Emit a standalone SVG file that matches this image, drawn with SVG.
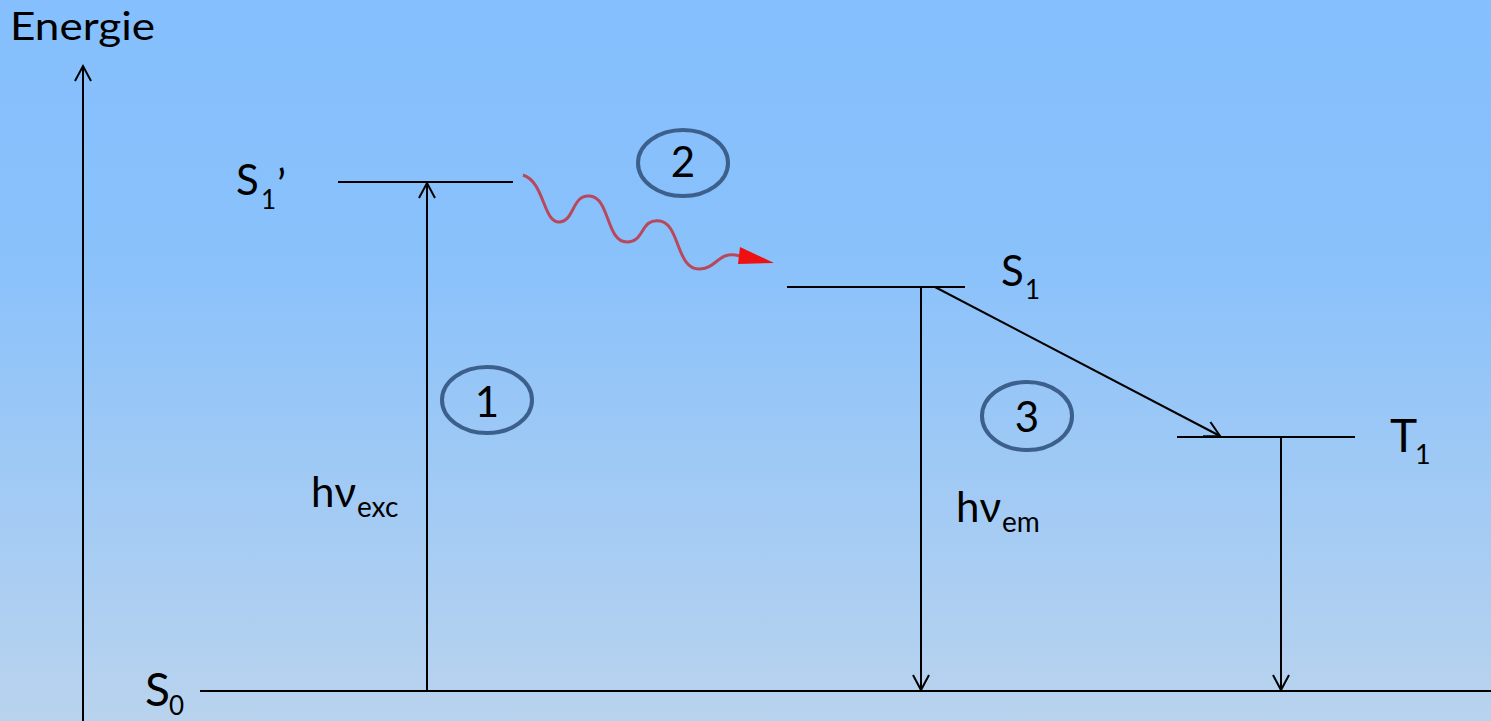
<svg xmlns="http://www.w3.org/2000/svg" width="1491" height="721" viewBox="0 0 1491 721">
  <defs>
    <linearGradient id="bg" x1="0" y1="0" x2="0" y2="1">
      <stop offset="0" stop-color="#85bffd"/>
      <stop offset="0.35" stop-color="#89c1fb"/>
      <stop offset="1" stop-color="#b9d3ee"/>
    </linearGradient>
    <marker id="open" viewBox="0 0 20 20" refX="17" refY="10" markerWidth="20" markerHeight="20" markerUnits="userSpaceOnUse" orient="auto">
      <path d="M2,2 L17,10 L2,18" fill="none" stroke="#000" stroke-width="2"/>
    </marker>
    <filter id="soft" x="-10%" y="-10%" width="120%" height="120%">
      <feGaussianBlur stdDeviation="0.7"/>
    </filter>
  </defs>
  <style>
    .lvl { stroke: #000; stroke-width: 2; fill: none; }
    .arr { stroke: #000; stroke-width: 2; fill: none; marker-end: url(#open); }
    .t { font-family: Lato, "Liberation Sans", sans-serif; fill: #000; }
    .ring { fill: none; stroke: #3c5f8b; stroke-width: 4; }
  </style>
  <rect width="1491" height="721" fill="url(#bg)"/>

  <text class="t" x="10" y="40" font-size="38" textLength="145" lengthAdjust="spacingAndGlyphs">Energie</text>

  <g id="connectors">
    <line class="arr" x1="83" y1="721" x2="83" y2="66"/>
    <line class="arr" x1="427" y1="691" x2="427" y2="183"/>
    <line class="arr" x1="921" y1="287" x2="921" y2="690"/>
    <line class="arr" x1="935" y1="287" x2="1220" y2="436"/>
    <line class="arr" x1="1281" y1="437" x2="1281" y2="690"/>
    <g id="wave">
      <path d="M523,175 C545,182 543,224 560,222 C575,220 572,194 590,196 C610,198 606,242 627,242 C645,242 640,218 660,221 C680,224 676,270 700,269 C718,268 718,250 740,256" fill="none" stroke="#b8485c" stroke-width="3" filter="url(#soft)"/>
      <polygon points="740,247 738,264 774,263" fill="#ee1111"/>
    </g>
  </g>

  <g id="S1prime">
    <line class="lvl" x1="338" y1="182" x2="513" y2="182"/>
    <text class="t" x="236" y="195" font-size="42">S</text>
    <text class="t" x="261" y="209" font-size="26">1</text>
    <text class="t" x="277" y="200" font-size="42">’</text>
  </g>
  <g id="S1">
    <line class="lvl" x1="787" y1="287" x2="965" y2="287"/>
    <text class="t" x="1001" y="286" font-size="42">S</text>
    <text class="t" x="1025" y="299" font-size="26">1</text>
  </g>
  <g id="T1">
    <line class="lvl" x1="1177" y1="437" x2="1355" y2="437"/>
    <text class="t" x="1390" y="452" font-size="46">T</text>
    <text class="t" x="1415" y="464" font-size="27">1</text>
  </g>
  <g id="S0">
    <line class="lvl" x1="200" y1="691" x2="1491" y2="691"/>
    <text class="t" x="145" y="706" font-size="46">S</text>
    <text class="t" x="169" y="715" font-size="26">0</text>
  </g>

  <g id="step1">
    <ellipse class="ring" cx="487" cy="400" rx="45" ry="33"/>
    <text class="t" x="487" y="417" font-size="42" text-anchor="middle">1</text>
  </g>
  <g id="step2">
    <ellipse class="ring" cx="683" cy="163" rx="45" ry="33"/>
    <text class="t" x="683" y="177" font-size="42" text-anchor="middle">2</text>
  </g>
  <g id="step3">
    <ellipse class="ring" cx="1027" cy="416" rx="45" ry="34"/>
    <text class="t" x="1027" y="432" font-size="42" text-anchor="middle">3</text>
  </g>

  <g id="hv_exc">
    <text class="t" x="311" y="507" font-size="42">hν</text>
    <text class="t" x="357" y="517" font-size="28">exc</text>
  </g>
  <g id="hv_em">
    <text class="t" x="956" y="522" font-size="42">hν</text>
    <text class="t" x="1002" y="532" font-size="28">em</text>
  </g>
</svg>
